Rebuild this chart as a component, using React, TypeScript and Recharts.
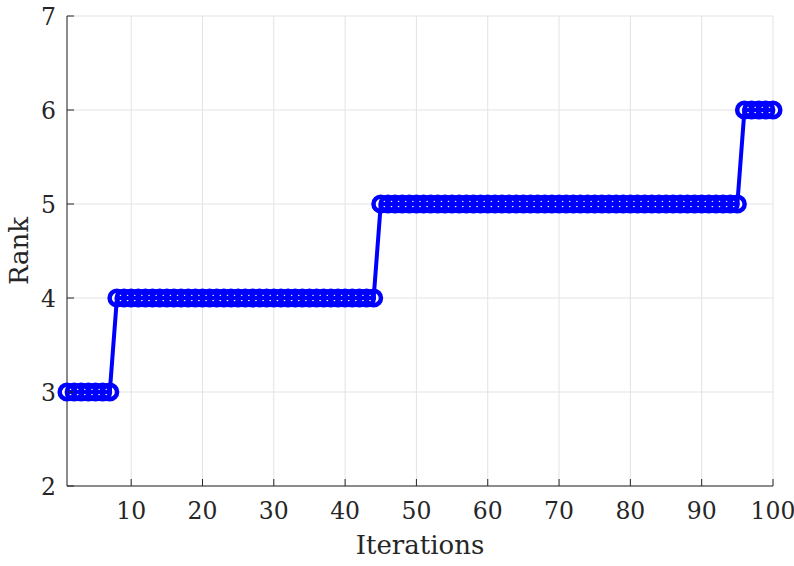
import { CartesianGrid, Line, LineChart, XAxis, YAxis } from "recharts";

const iterations = Array.from({ length: 100 }, (_, i) => i + 1);
const rankValues = [
  3, 3, 3, 3, 3, 3, 3,
  4, 4, 4, 4, 4, 4, 4, 4, 4, 4, 4, 4, 4, 4, 4, 4, 4, 4, 4, 4, 4, 4, 4, 4, 4, 4, 4, 4, 4, 4, 4, 4, 4, 4, 4, 4, 4,
  5, 5, 5, 5, 5, 5, 5, 5, 5, 5, 5, 5, 5, 5, 5, 5, 5, 5, 5, 5, 5, 5, 5, 5, 5, 5, 5, 5, 5, 5, 5, 5, 5, 5, 5, 5, 5, 5, 5, 5, 5, 5, 5, 5, 5, 5, 5, 5, 5, 5, 5,
  6, 6, 6, 6, 6,
];
const xTicks = [10, 20, 30, 40, 50, 60, 70, 80, 90, 100];
const yTicks = [2, 3, 4, 5, 6, 7];

const data = iterations.map((it, i) => ({ it, rank: rankValues[i] }));

const FONT = "'DejaVu Serif', 'Liberation Serif', serif";
const INK = "#262626";
const TICK = 7;

function BottomTick({ x, y, payload }: any) {
  return (
    <g>
      <line x1={x} x2={x} y1={y} y2={y - TICK} stroke={INK} strokeWidth={1} />
      <text x={x} y={y + 33} textAnchor="middle" fontFamily={FONT} fontSize={23.5} fill={INK}>
        {payload.value}
      </text>
    </g>
  );
}

function TopTick({ x, y }: any) {
  return <line x1={x} x2={x} y1={y} y2={y + TICK} stroke={INK} strokeWidth={1} />;
}

function LeftTick({ x, y, payload }: any) {
  return (
    <g>
      <line x1={x} x2={x + TICK} y1={y} y2={y} stroke={INK} strokeWidth={1} />
      <text x={x - 11} y={y + 8.5} textAnchor="end" fontFamily={FONT} fontSize={23.5} fill={INK}>
        {payload.value}
      </text>
    </g>
  );
}

function RightTick({ x, y }: any) {
  return <line x1={x} x2={x - TICK} y1={y} y2={y} stroke={INK} strokeWidth={1} />;
}

function XTitle(props: any) {
  const vb = props.viewBox;
  return (
    <text x={vb.x + vb.width / 2} y={vb.y + 68} textAnchor="middle" fontFamily={FONT} fontSize={26} fill={INK}>
      Iterations
    </text>
  );
}

function YTitle(props: any) {
  const vb = props.viewBox;
  const cx = vb.x + 28;
  const cy = vb.y + vb.height / 2;
  return (
    <text x={cx} y={cy} transform={`rotate(-90 ${cx} ${cy})`} textAnchor="middle" fontFamily={FONT} fontSize={26} fill={INK}>
      Rank
    </text>
  );
}

export default function App() {
  return (
    <div style={{ position: "absolute", left: 0, top: 0, width: 794, height: 566, background: "#fff" }}>
      <LineChart width={794} height={566} data={data} margin={{ top: 16, right: 21, bottom: 0, left: 0 }}>
        <CartesianGrid stroke="#e3e3e3" strokeWidth={1} />
        <XAxis
          dataKey="it"
          type="number"
          domain={[1, 100]}
          ticks={xTicks}
          height={80}
          tickSize={0}
          tickMargin={0}
          tickLine={false}
          axisLine={{ stroke: INK }}
          tick={<BottomTick />}
          label={XTitle}
        />
        <XAxis
          xAxisId="top"
          dataKey="it"
          type="number"
          domain={[1, 100]}
          ticks={xTicks}
          orientation="top"
          height={0}
          tickSize={0}
          tickLine={false}
          axisLine={{ stroke: INK }}
          tick={<TopTick />}
        />
        <YAxis
          type="number"
          domain={[2, 7]}
          ticks={yTicks}
          width={67}
          tickSize={0}
          tickMargin={0}
          tickLine={false}
          axisLine={{ stroke: INK }}
          tick={<LeftTick />}
          label={YTitle}
        />
        <YAxis
          yAxisId="right"
          type="number"
          domain={[2, 7]}
          ticks={yTicks}
          orientation="right"
          width={0}
          tickSize={0}
          tickLine={false}
          axisLine={{ stroke: INK }}
          tick={<RightTick />}
        />
        <Line
          dataKey="rank"
          type="linear"
          stroke="#0000ff"
          strokeWidth={4}
          dot={{ r: 7.3, stroke: "#0000ff", strokeWidth: 4.5, fill: "none" }}
          isAnimationActive={false}
        />
      </LineChart>
    </div>
  );
}
